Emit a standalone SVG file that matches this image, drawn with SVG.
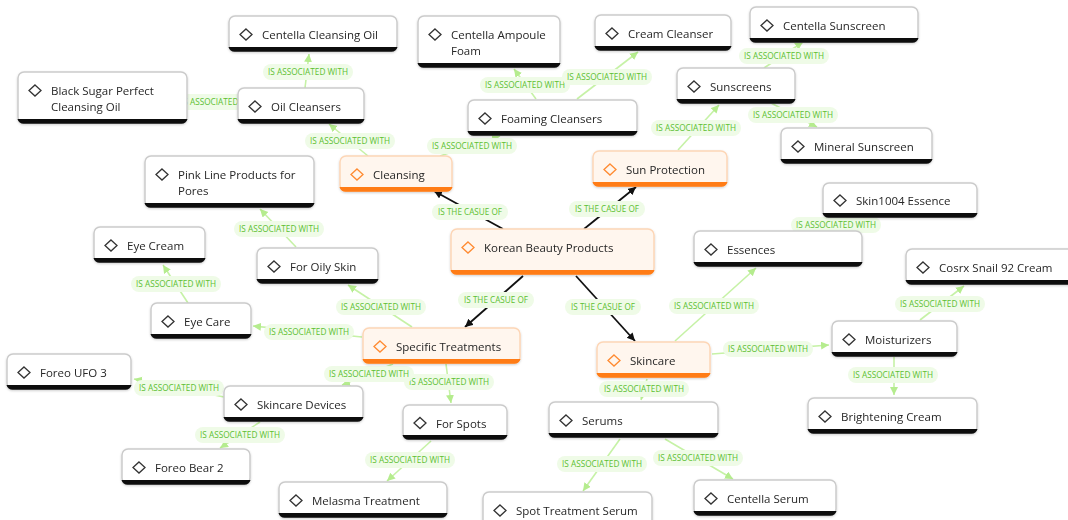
<svg xmlns="http://www.w3.org/2000/svg" width="1068" height="520" viewBox="0 0 1068 520">
<style>
.box{fill:#fff;stroke:#cbcbcb;stroke-width:1.5}
.bar{fill:#111}
.ob{fill:#fff6ee;stroke:#fdd6b6;stroke-width:1.5}
.obar{fill:#ff7b12}
.dia{fill:none;stroke:#333;stroke-width:1.3}
.odia{fill:none;stroke:#ff8a30;stroke-width:1.3}
.t{font-family:"Open Sans","Noto Sans",sans-serif;font-size:11.5px;fill:#262626}
.e{stroke:#c6f2a6;stroke-width:1.6;fill:none;marker-end:url(#ag)}
.k{stroke:#111;stroke-width:1.8;fill:none;marker-end:url(#ak)}
.lb{fill:#effbe7}
.lt{font-family:"Open Sans","Noto Sans",sans-serif;font-size:8.5px;fill:#5cbf32;text-anchor:middle}
</style>
<defs>
<marker id="ag" markerUnits="userSpaceOnUse" markerWidth="10" markerHeight="10" refX="8" refY="4" orient="auto"><path d="M0,0L8,4L0,8z" fill="#b5ec8e"/></marker>
<marker id="ak" markerUnits="userSpaceOnUse" markerWidth="10" markerHeight="10" refX="8" refY="4" orient="auto"><path d="M0,0L8,4L0,8z" fill="#111"/></marker>
<filter id="sh" x="-10%" y="-20%" width="120%" height="150%"><feDropShadow dx="0" dy="1" stdDeviation="1.2" flood-opacity="0.18"/></filter>
</defs>
<rect width="1068" height="520" fill="#fff"/>
<g id="connectors">
<line class="k" x1="503" y1="229" x2="434" y2="191"/>
<line class="k" x1="584" y1="229" x2="636" y2="187"/>
<line class="k" x1="523" y1="276" x2="465" y2="327"/>
<line class="k" x1="576" y1="276" x2="635" y2="341"/>
<line class="e" x1="305" y1="88" x2="309" y2="54"/>
<line class="e" x1="238" y1="104" x2="189" y2="100"/>
<line class="e" x1="368" y1="156" x2="329" y2="124"/>
<line class="e" x1="440" y1="156" x2="500" y2="136"/>
<line class="e" x1="536" y1="99" x2="514" y2="69"/>
<line class="e" x1="577" y1="99" x2="638" y2="52"/>
<line class="e" x1="678" y1="150" x2="719" y2="105"/>
<line class="e" x1="764" y1="68" x2="803" y2="42"/>
<line class="e" x1="771" y1="103" x2="817" y2="127"/>
<line class="e" x1="296" y1="247" x2="260" y2="209"/>
<line class="e" x1="188" y1="303" x2="163" y2="265"/>
<line class="e" x1="412" y1="327" x2="348" y2="285"/>
<line class="e" x1="362" y1="337" x2="253" y2="326"/>
<line class="e" x1="393" y1="364" x2="342" y2="385"/>
<line class="e" x1="446" y1="364" x2="451" y2="403"/>
<line class="e" x1="224" y1="397" x2="134" y2="379"/>
<line class="e" x1="260" y1="422" x2="220" y2="448"/>
<line class="e" x1="431" y1="441" x2="387" y2="481"/>
<line class="e" x1="810" y1="231" x2="862" y2="218"/>
<line class="e" x1="675" y1="341" x2="756" y2="268"/>
<line class="e" x1="712" y1="354" x2="829" y2="345"/>
<line class="e" x1="920" y1="320" x2="964" y2="286"/>
<line class="e" x1="894" y1="357" x2="894" y2="395"/>
<line class="e" x1="647" y1="379" x2="641" y2="400"/>
<line class="e" x1="620" y1="439" x2="583" y2="491"/>
<line class="e" x1="665" y1="439" x2="733" y2="479"/>
<g id="edge-labels">
<rect class="lb" x="432" y="204" width="76" height="16" rx="8"/><text class="lt" x="470" y="215" textLength="64" lengthAdjust="spacingAndGlyphs">IS THE CASUE OF</text>
<rect class="lb" x="569" y="201" width="76" height="16" rx="8"/><text class="lt" x="607" y="212" textLength="64" lengthAdjust="spacingAndGlyphs">IS THE CASUE OF</text>
<rect class="lb" x="458" y="292" width="76" height="16" rx="8"/><text class="lt" x="496" y="303" textLength="64" lengthAdjust="spacingAndGlyphs">IS THE CASUE OF</text>
<rect class="lb" x="565" y="299" width="76" height="16" rx="8"/><text class="lt" x="603" y="310" textLength="64" lengthAdjust="spacingAndGlyphs">IS THE CASUE OF</text>
<rect class="lb" x="263" y="64" width="90" height="16" rx="8"/><text class="lt" x="308" y="75" textLength="80" lengthAdjust="spacingAndGlyphs">IS ASSOCIATED WITH</text>
<rect class="lb" x="176" y="94" width="90" height="16" rx="8"/><text class="lt" x="221" y="105" textLength="80" lengthAdjust="spacingAndGlyphs">IS ASSOCIATED WITH</text>
<rect class="lb" x="305" y="133" width="90" height="16" rx="8"/><text class="lt" x="350" y="144" textLength="80" lengthAdjust="spacingAndGlyphs">IS ASSOCIATED WITH</text>
<rect class="lb" x="427" y="138" width="90" height="16" rx="8"/><text class="lt" x="472" y="149" textLength="80" lengthAdjust="spacingAndGlyphs">IS ASSOCIATED WITH</text>
<rect class="lb" x="480" y="77" width="90" height="16" rx="8"/><text class="lt" x="525" y="88" textLength="80" lengthAdjust="spacingAndGlyphs">IS ASSOCIATED WITH</text>
<rect class="lb" x="562" y="69" width="90" height="16" rx="8"/><text class="lt" x="607" y="80" textLength="80" lengthAdjust="spacingAndGlyphs">IS ASSOCIATED WITH</text>
<rect class="lb" x="651" y="120" width="90" height="16" rx="8"/><text class="lt" x="696" y="131" textLength="80" lengthAdjust="spacingAndGlyphs">IS ASSOCIATED WITH</text>
<rect class="lb" x="739" y="48" width="90" height="16" rx="8"/><text class="lt" x="784" y="59" textLength="80" lengthAdjust="spacingAndGlyphs">IS ASSOCIATED WITH</text>
<rect class="lb" x="748" y="107" width="90" height="16" rx="8"/><text class="lt" x="793" y="118" textLength="80" lengthAdjust="spacingAndGlyphs">IS ASSOCIATED WITH</text>
<rect class="lb" x="234" y="221" width="90" height="16" rx="8"/><text class="lt" x="279" y="232" textLength="80" lengthAdjust="spacingAndGlyphs">IS ASSOCIATED WITH</text>
<rect class="lb" x="131" y="276" width="90" height="16" rx="8"/><text class="lt" x="176" y="287" textLength="80" lengthAdjust="spacingAndGlyphs">IS ASSOCIATED WITH</text>
<rect class="lb" x="336" y="299" width="90" height="16" rx="8"/><text class="lt" x="381" y="310" textLength="80" lengthAdjust="spacingAndGlyphs">IS ASSOCIATED WITH</text>
<rect class="lb" x="264" y="324" width="90" height="16" rx="8"/><text class="lt" x="309" y="335" textLength="80" lengthAdjust="spacingAndGlyphs">IS ASSOCIATED WITH</text>
<rect class="lb" x="404" y="374" width="90" height="16" rx="8"/><text class="lt" x="449" y="385" textLength="80" lengthAdjust="spacingAndGlyphs">IS ASSOCIATED WITH</text>
<rect class="lb" x="324" y="366" width="90" height="16" rx="8"/><text class="lt" x="369" y="377" textLength="80" lengthAdjust="spacingAndGlyphs">IS ASSOCIATED WITH</text>
<rect class="lb" x="134" y="380" width="90" height="16" rx="8"/><text class="lt" x="179" y="391" textLength="80" lengthAdjust="spacingAndGlyphs">IS ASSOCIATED WITH</text>
<rect class="lb" x="195" y="427" width="90" height="16" rx="8"/><text class="lt" x="240" y="438" textLength="80" lengthAdjust="spacingAndGlyphs">IS ASSOCIATED WITH</text>
<rect class="lb" x="365" y="452" width="90" height="16" rx="8"/><text class="lt" x="410" y="463" textLength="80" lengthAdjust="spacingAndGlyphs">IS ASSOCIATED WITH</text>
<rect class="lb" x="791" y="217" width="90" height="16" rx="8"/><text class="lt" x="836" y="228" textLength="80" lengthAdjust="spacingAndGlyphs">IS ASSOCIATED WITH</text>
<rect class="lb" x="669" y="298" width="90" height="16" rx="8"/><text class="lt" x="714" y="309" textLength="80" lengthAdjust="spacingAndGlyphs">IS ASSOCIATED WITH</text>
<rect class="lb" x="723" y="341" width="90" height="16" rx="8"/><text class="lt" x="768" y="352" textLength="80" lengthAdjust="spacingAndGlyphs">IS ASSOCIATED WITH</text>
<rect class="lb" x="895" y="296" width="90" height="16" rx="8"/><text class="lt" x="940" y="307" textLength="80" lengthAdjust="spacingAndGlyphs">IS ASSOCIATED WITH</text>
<rect class="lb" x="848" y="367" width="90" height="16" rx="8"/><text class="lt" x="893" y="378" textLength="80" lengthAdjust="spacingAndGlyphs">IS ASSOCIATED WITH</text>
<rect class="lb" x="599" y="381" width="90" height="16" rx="8"/><text class="lt" x="644" y="392" textLength="80" lengthAdjust="spacingAndGlyphs">IS ASSOCIATED WITH</text>
<rect class="lb" x="557" y="456" width="90" height="16" rx="8"/><text class="lt" x="602" y="467" textLength="80" lengthAdjust="spacingAndGlyphs">IS ASSOCIATED WITH</text>
<rect class="lb" x="653" y="450" width="90" height="16" rx="8"/><text class="lt" x="698" y="461" textLength="80" lengthAdjust="spacingAndGlyphs">IS ASSOCIATED WITH</text>
</g>
</g>
<g id="nodes" filter="url(#sh)">
<g id="n-centella-cleansing-oil" transform="translate(229,16)"><rect class="box" width="168" height="35" rx="6"/><path class="bar" d="M-.5,31A6.5,6.5 0 0 0 6,35.75H162A6.5,6.5 0 0 0 168.5,31Z"/><path class="dia" d="M17,13l6,5.5-6,5.5-6-5.5z"/><text class="t" x="33" y="23">Centella Cleansing Oil</text></g>
<g id="n-centella-ampoule-foam" transform="translate(418,16)"><rect class="box" width="142" height="51" rx="6"/><path class="bar" d="M-.5,47A6.5,6.5 0 0 0 6,51.75H136A6.5,6.5 0 0 0 142.5,47Z"/><path class="dia" d="M17,13l6,5.5-6,5.5-6-5.5z"/><text class="t" x="33" y="23">Centella Ampoule</text><text class="t" x="33" y="39">Foam</text></g>
<g id="n-cream-cleanser" transform="translate(595,15)"><rect class="box" width="136" height="35" rx="6"/><path class="bar" d="M-.5,31A6.5,6.5 0 0 0 6,35.75H130A6.5,6.5 0 0 0 136.5,31Z"/><path class="dia" d="M17,13l6,5.5-6,5.5-6-5.5z"/><text class="t" x="33" y="23">Cream Cleanser</text></g>
<g id="n-centella-sunscreen" transform="translate(750,7)"><rect class="box" width="168" height="35" rx="6"/><path class="bar" d="M-.5,31A6.5,6.5 0 0 0 6,35.75H162A6.5,6.5 0 0 0 168.5,31Z"/><path class="dia" d="M17,13l6,5.5-6,5.5-6-5.5z"/><text class="t" x="33" y="23">Centella Sunscreen</text></g>
<g id="n-black-sugar" transform="translate(18,72)"><rect class="box" width="169" height="51" rx="6"/><path class="bar" d="M-.5,47A6.5,6.5 0 0 0 6,51.75H163A6.5,6.5 0 0 0 169.5,47Z"/><path class="dia" d="M17,13l6,5.5-6,5.5-6-5.5z"/><text class="t" x="33" y="23">Black Sugar Perfect</text><text class="t" x="33" y="39">Cleansing Oil</text></g>
<g id="n-oil-cleansers" transform="translate(238,88)"><rect class="box" width="126" height="35" rx="6"/><path class="bar" d="M-.5,31A6.5,6.5 0 0 0 6,35.75H120A6.5,6.5 0 0 0 126.5,31Z"/><path class="dia" d="M17,13l6,5.5-6,5.5-6-5.5z"/><text class="t" x="33" y="23">Oil Cleansers</text></g>
<g id="n-foaming-cleansers" transform="translate(468,100)"><rect class="box" width="169" height="35" rx="6"/><path class="bar" d="M-.5,31A6.5,6.5 0 0 0 6,35.75H163A6.5,6.5 0 0 0 169.5,31Z"/><path class="dia" d="M17,13l6,5.5-6,5.5-6-5.5z"/><text class="t" x="33" y="23">Foaming Cleansers</text></g>
<g id="n-sunscreens" transform="translate(677,68)"><rect class="box" width="118" height="35" rx="6"/><path class="bar" d="M-.5,31A6.5,6.5 0 0 0 6,35.75H112A6.5,6.5 0 0 0 118.5,31Z"/><path class="dia" d="M17,13l6,5.5-6,5.5-6-5.5z"/><text class="t" x="33" y="23">Sunscreens</text></g>
<g id="n-mineral-sunscreen" transform="translate(781,128)"><rect class="box" width="151" height="35" rx="6"/><path class="bar" d="M-.5,31A6.5,6.5 0 0 0 6,35.75H145A6.5,6.5 0 0 0 151.5,31Z"/><path class="dia" d="M17,13l6,5.5-6,5.5-6-5.5z"/><text class="t" x="33" y="23">Mineral Sunscreen</text></g>
<g id="n-pink-line" transform="translate(145,156)"><rect class="box" width="169" height="51" rx="6"/><path class="bar" d="M-.5,47A6.5,6.5 0 0 0 6,51.75H163A6.5,6.5 0 0 0 169.5,47Z"/><path class="dia" d="M17,13l6,5.5-6,5.5-6-5.5z"/><text class="t" x="33" y="23">Pink Line Products for</text><text class="t" x="33" y="39">Pores</text></g>
<g id="n-cleansing" transform="translate(340,156)"><rect class="ob" width="112" height="35" rx="6"/><path class="obar" d="M-.5,31A6.5,6.5 0 0 0 6,35.75H106A6.5,6.5 0 0 0 112.5,31Z"/><path class="odia" d="M17,13l6,5.5-6,5.5-6-5.5z"/><text class="t" x="33" y="23">Cleansing</text></g>
<g id="n-sun-protection" transform="translate(593,151)"><rect class="ob" width="134" height="35" rx="6"/><path class="obar" d="M-.5,31A6.5,6.5 0 0 0 6,35.75H128A6.5,6.5 0 0 0 134.5,31Z"/><path class="odia" d="M17,13l6,5.5-6,5.5-6-5.5z"/><text class="t" x="33" y="23">Sun Protection</text></g>
<g id="n-korean-beauty" transform="translate(451,229)"><rect class="ob" width="203" height="45" rx="6"/><path class="obar" d="M-.5,41A6.5,6.5 0 0 0 6,45.75H197A6.5,6.5 0 0 0 203.5,41Z"/><path class="odia" d="M17,13l6,5.5-6,5.5-6-5.5z"/><text class="t" x="33" y="23">Korean Beauty Products</text></g>
<g id="n-skin1004" transform="translate(823,183)"><rect class="box" width="154" height="34" rx="6"/><path class="bar" d="M-.5,30A6.5,6.5 0 0 0 6,34.75H148A6.5,6.5 0 0 0 154.5,30Z"/><path class="dia" d="M17,12l6,5.5-6,5.5-6-5.5z"/><text class="t" x="33" y="22">Skin1004 Essence</text></g>
<g id="n-essences" transform="translate(694,231)"><rect class="box" width="168" height="35" rx="6"/><path class="bar" d="M-.5,31A6.5,6.5 0 0 0 6,35.75H162A6.5,6.5 0 0 0 168.5,31Z"/><path class="dia" d="M17,13l6,5.5-6,5.5-6-5.5z"/><text class="t" x="33" y="23">Essences</text></g>
<g id="n-cosrx" transform="translate(906,249)"><rect class="box" width="175" height="35" rx="6"/><path class="bar" d="M-.5,31A6.5,6.5 0 0 0 6,35.75H169A6.5,6.5 0 0 0 175.5,31Z"/><path class="dia" d="M17,13l6,5.5-6,5.5-6-5.5z"/><text class="t" x="33" y="23">Cosrx Snail 92 Cream</text></g>
<g id="n-eye-cream" transform="translate(94,227)"><rect class="box" width="111" height="35" rx="6"/><path class="bar" d="M-.5,31A6.5,6.5 0 0 0 6,35.75H105A6.5,6.5 0 0 0 111.5,31Z"/><path class="dia" d="M17,13l6,5.5-6,5.5-6-5.5z"/><text class="t" x="33" y="23">Eye Cream</text></g>
<g id="n-for-oily-skin" transform="translate(257,248)"><rect class="box" width="121" height="35" rx="6"/><path class="bar" d="M-.5,31A6.5,6.5 0 0 0 6,35.75H115A6.5,6.5 0 0 0 121.5,31Z"/><path class="dia" d="M17,13l6,5.5-6,5.5-6-5.5z"/><text class="t" x="33" y="23">For Oily Skin</text></g>
<g id="n-eye-care" transform="translate(151,303)"><rect class="box" width="100" height="35" rx="6"/><path class="bar" d="M-.5,31A6.5,6.5 0 0 0 6,35.75H94A6.5,6.5 0 0 0 100.5,31Z"/><path class="dia" d="M17,13l6,5.5-6,5.5-6-5.5z"/><text class="t" x="33" y="23">Eye Care</text></g>
<g id="n-specific-treatments" transform="translate(363,328)"><rect class="ob" width="157" height="35" rx="6"/><path class="obar" d="M-.5,31A6.5,6.5 0 0 0 6,35.75H151A6.5,6.5 0 0 0 157.5,31Z"/><path class="odia" d="M17,13l6,5.5-6,5.5-6-5.5z"/><text class="t" x="33" y="23">Specific Treatments</text></g>
<g id="n-skincare" transform="translate(597,342)"><rect class="ob" width="113" height="35" rx="6"/><path class="obar" d="M-.5,31A6.5,6.5 0 0 0 6,35.75H107A6.5,6.5 0 0 0 113.5,31Z"/><path class="odia" d="M17,13l6,5.5-6,5.5-6-5.5z"/><text class="t" x="33" y="23">Skincare</text></g>
<g id="n-moisturizers" transform="translate(832,321)"><rect class="box" width="125" height="35" rx="6"/><path class="bar" d="M-.5,31A6.5,6.5 0 0 0 6,35.75H119A6.5,6.5 0 0 0 125.5,31Z"/><path class="dia" d="M17,13l6,5.5-6,5.5-6-5.5z"/><text class="t" x="33" y="23">Moisturizers</text></g>
<g id="n-foreo-ufo" transform="translate(7,354)"><rect class="box" width="124" height="35" rx="6"/><path class="bar" d="M-.5,31A6.5,6.5 0 0 0 6,35.75H118A6.5,6.5 0 0 0 124.5,31Z"/><path class="dia" d="M17,13l6,5.5-6,5.5-6-5.5z"/><text class="t" x="33" y="23">Foreo UFO 3</text></g>
<g id="n-skincare-devices" transform="translate(224,386)"><rect class="box" width="139" height="35" rx="6"/><path class="bar" d="M-.5,31A6.5,6.5 0 0 0 6,35.75H133A6.5,6.5 0 0 0 139.5,31Z"/><path class="dia" d="M17,13l6,5.5-6,5.5-6-5.5z"/><text class="t" x="33" y="23">Skincare Devices</text></g>
<g id="n-for-spots" transform="translate(403,405)"><rect class="box" width="104" height="34" rx="6"/><path class="bar" d="M-.5,30A6.5,6.5 0 0 0 6,34.75H98A6.5,6.5 0 0 0 104.5,30Z"/><path class="dia" d="M17,12.5l6,5.5-6,5.5-6-5.5z"/><text class="t" x="33" y="22.5">For Spots</text></g>
<g id="n-serums" transform="translate(549,402)"><rect class="box" width="169" height="35" rx="6"/><path class="bar" d="M-.5,31A6.5,6.5 0 0 0 6,35.75H163A6.5,6.5 0 0 0 169.5,31Z"/><path class="dia" d="M17,13l6,5.5-6,5.5-6-5.5z"/><text class="t" x="33" y="23">Serums</text></g>
<g id="n-brightening-cream" transform="translate(808,398)"><rect class="box" width="169" height="35" rx="6"/><path class="bar" d="M-.5,31A6.5,6.5 0 0 0 6,35.75H163A6.5,6.5 0 0 0 169.5,31Z"/><path class="dia" d="M17,13l6,5.5-6,5.5-6-5.5z"/><text class="t" x="33" y="23">Brightening Cream</text></g>
<g id="n-foreo-bear" transform="translate(122,449)"><rect class="box" width="128" height="35" rx="6"/><path class="bar" d="M-.5,31A6.5,6.5 0 0 0 6,35.75H122A6.5,6.5 0 0 0 128.5,31Z"/><path class="dia" d="M17,13l6,5.5-6,5.5-6-5.5z"/><text class="t" x="33" y="23">Foreo Bear 2</text></g>
<g id="n-melasma" transform="translate(279,482)"><rect class="box" width="168" height="35" rx="6"/><path class="bar" d="M-.5,31A6.5,6.5 0 0 0 6,35.75H162A6.5,6.5 0 0 0 168.5,31Z"/><path class="dia" d="M17,13l6,5.5-6,5.5-6-5.5z"/><text class="t" x="33" y="23">Melasma Treatment</text></g>
<g id="n-spot-treatment-serum" transform="translate(483,492)"><rect class="box" width="169" height="35" rx="6"/><path class="bar" d="M-.5,31A6.5,6.5 0 0 0 6,35.75H163A6.5,6.5 0 0 0 169.5,31Z"/><path class="dia" d="M17,13l6,5.5-6,5.5-6-5.5z"/><text class="t" x="33" y="23">Spot Treatment Serum</text></g>
<g id="n-centella-serum" transform="translate(694,480)"><rect class="box" width="142" height="35" rx="6"/><path class="bar" d="M-.5,31A6.5,6.5 0 0 0 6,35.75H136A6.5,6.5 0 0 0 142.5,31Z"/><path class="dia" d="M17,13l6,5.5-6,5.5-6-5.5z"/><text class="t" x="33" y="23">Centella Serum</text></g>
</g>
</svg>
